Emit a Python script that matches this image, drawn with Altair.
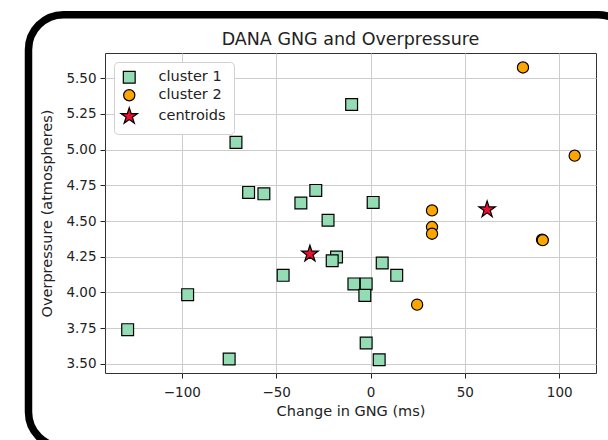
import altair as alt
import pandas as pd

# Change in GNG (ms) vs overpressure (atm) for each cluster
c1_gng = [-10.0, -71.3, -64.6, -56.5, -36.9, -29.0, 1.4, -22.5, -18.0, -20.3, 6.2,
          13.9, -8.8, -2.3, -3.0, -2.3, 4.6, -46.3, -96.9, -128.7, -74.9]
c1_op = [5.315, 5.05, 4.70, 4.69, 4.626, 4.714, 4.63, 4.505, 4.248, 4.222, 4.206,
         4.12, 4.06, 4.06, 3.98, 3.647, 3.53, 4.12, 3.985, 3.74, 3.535]

c2_gng = [80.8, 108.2, 32.6, 32.6, 32.6, 90.9, 91.3, 24.7]
c2_op = [5.574, 4.957, 4.574, 4.458, 4.411, 4.369, 4.366, 3.915]

cent_gng = [-32.1, 61.8]
cent_op = [4.27, 4.58]

groups = ["cluster 1", "cluster 2", "centroids"]
fills = ["#93dcb4", "#ffa500", "#e8112d"]

# five-pointed star symbol path
STAR = ("M0,-1.65L0.37,-0.51L1.57,-0.51L0.6,0.195L0.97,1.335L0,0.63"
        "L-0.97,1.335L-0.6,0.195L-1.57,-0.51L-0.37,-0.51Z")
shapes = ["square", "circle", STAR]
sizes = [140, 110, 440]

df = pd.DataFrame({
    "gng": c1_gng + c2_gng + cent_gng,
    "op": c1_op + c2_op + cent_op,
    "group": [groups[0]] * len(c1_gng) + [groups[1]] * len(c2_gng) + [groups[2]] * len(cent_gng),
})

FONT = "DejaVu Sans"
TXT = "#222222"
W, H = 491, 320

x_ticks = [-100, -50, 0, 50, 100]
y_ticks = [3.5, 3.75, 4.0, 4.25, 4.5, 4.75, 5.0, 5.25, 5.5]

points = alt.Chart(df).mark_point(
    filled=True, stroke="black", strokeWidth=1.2, opacity=1
).encode(
    x=alt.X("gng:Q", title="Change in GNG (ms)",
            scale=alt.Scale(domain=[-140.7, 119.5], nice=False, zero=False),
            axis=alt.Axis(values=x_ticks, format="d")),
    y=alt.Y("op:Q", title="Overpressure (atmospheres)",
            scale=alt.Scale(domain=[3.437, 5.675], nice=False, zero=False),
            axis=alt.Axis(values=y_ticks, format=".2f")),
    color=alt.Color("group:N", scale=alt.Scale(domain=groups, range=fills),
                    legend=alt.Legend(title=None)),
    shape=alt.Shape("group:N", scale=alt.Scale(domain=groups, range=shapes),
                    legend=alt.Legend(title=None)),
    size=alt.Size("group:N", scale=alt.Scale(domain=groups, range=sizes),
                  legend=alt.Legend(title=None)),
)

one_row = pd.DataFrame({"k": [0]})

# chart title, centred over the plot area
title = alt.Chart(one_row).mark_text(
    text="DANA GNG and Overpressure", font=FONT, fontSize=17.5, color=TXT,
    align="center", baseline="alphabetic",
).encode(x=alt.value(W / 2), y=alt.value(-8))

# rounded black border around the whole figure
frame = alt.Chart(one_row).mark_rect(
    fill="transparent", stroke="black", strokeWidth=7.5, cornerRadius=35
).encode(
    x=alt.value(-76.5), x2=alt.value(528),
    y=alt.value(-38.3), y2=alt.value(394),
)

chart = alt.layer(points, title, frame).properties(
    width=W, height=H,
    autosize=alt.AutoSizeParams(type="none"),
    padding={"left": 105, "top": 53, "right": 12, "bottom": 67},
    background="white",
).configure_view(
    stroke="#333333", strokeWidth=1
).configure_axis(
    labelFont=FONT, labelFontSize=13.5, labelColor=TXT,
    titleFont=FONT, titleFontSize=14.5, titleFontWeight="normal", titleColor=TXT,
    grid=True, gridColor="#cccccc", gridWidth=1,
    tickColor="#222222", tickSize=5, domain=False,
).configure_axisX(
    labelPadding=7, titlePadding=6
).configure_axisY(
    labelPadding=4, titlePadding=11
).configure_legend(
    orient="top-left", offset=9, padding=8,
    fillColor="white", strokeColor="#d0d0d0", cornerRadius=4,
    labelFont=FONT, labelFontSize=14.5, labelColor=TXT, labelOffset=22,
    rowPadding=1, symbolStrokeColor="black", symbolStrokeWidth=1.2,
)

chart.save("out.html", embed_options={"renderer": "svg", "actions": False})
